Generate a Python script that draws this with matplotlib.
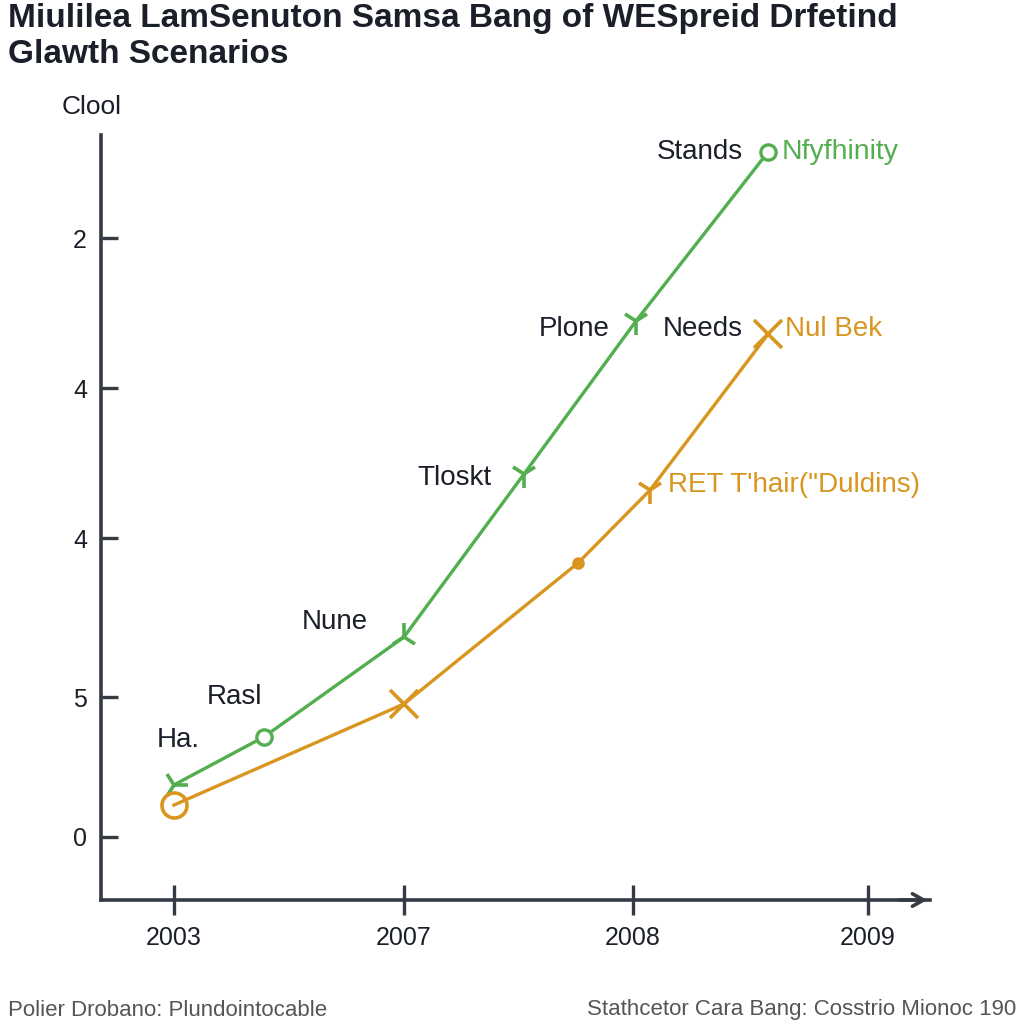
import matplotlib
matplotlib.use("Agg")
import matplotlib.pyplot as plt

# ---- data ----
x_ticks = [0, 1, 1.996, 3.017]
x_ticklabels = ["2003", "2007", "2008", "2009"]
y_ticks = [0, 0.933, 1.993, 2.993, 3.993]
y_ticklabels = ["0", "5", "4", "4", "2"]

green_x = [0, 0.391, 1, 1.522, 2.009, 2.583]
green_y = [0.347, 0.667, 1.333, 2.42, 3.44, 4.567]
green_markers = ["4", "o", "2", "1", "1", "o"]

orange_x = [0, 1, 1.757, 2.07, 2.583]
orange_y = [0.213, 0.887, 1.827, 2.313, 3.353]
orange_markers = ["o", "x", ".", "1", "x"]

black_labels = ["Ha.", "Rasl", "Nune", "Tloskt", "Plone", "Needs", "Stands"]
black_label_x = [0.017, 0.265, 0.70, 1.22, 1.74, 2.30, 2.287]
black_label_y = [0.647, 0.933, 1.433, 2.393, 3.387, 3.387, 4.567]

green_end_label = "Nfyfhinity"
orange_labels = ["Nul Bek", "RET T'hair(\"Duldins)"]
orange_label_x = [2.657, 2.148]
orange_label_y = [3.387, 2.347]

title = "Miulilea LamSenuton Samsa Bang of WESpreid Drfetind\nGlawth Scenarios"
y_label = "Clool"
foot_left = "Polier Drobano: Plundointocable"
foot_right = "Stathcetor Cara Bang: Cosstrio Mionoc 190"

GREEN = "#52ae4f"
ORANGE = "#d8961f"
AX = "#353b45"
TXT = "#1b1f29"

plt.rcParams["font.family"] = ["Liberation Sans", "DejaVu Sans"]

fig = plt.figure(figsize=(10.24, 10.24), dpi=100)
fig.patch.set_facecolor("white")
ax = fig.add_axes([101 / 1024, 124 / 1024, 829 / 1024, 765 / 1024])

ax.plot(green_x, green_y, color=GREEN, lw=2.4, zorder=3)
ax.plot(orange_x, orange_y, color=ORANGE, lw=2.4, zorder=3)
for xx, yy, m in zip(green_x, green_y, green_markers):
    if m == "o":
        ax.plot(xx, yy, marker="o", ms=11, mfc="white", mec=GREEN, mew=2.4, zorder=4)
    else:
        ax.plot(xx, yy, marker=m, ms=20, color=GREEN, mew=2.6, zorder=4)
for xx, yy, m in zip(orange_x, orange_y, orange_markers):
    if m == "o":
        ax.plot(xx, yy, marker="o", ms=18, mfc="none", mec=ORANGE, mew=2.6, zorder=4)
    elif m == ".":
        ax.plot(xx, yy, marker="o", ms=8, color=ORANGE, zorder=4)
    else:
        ax.plot(xx, yy, marker=m, ms=20, color=ORANGE, mew=2.6, zorder=4)

for t, xx, yy in zip(black_labels, black_label_x, black_label_y):
    ax.text(xx, yy, t, fontsize=20, color=TXT, ha="center", va="center")
ax.text(green_x[-1] + 0.06, green_y[-1], green_end_label, fontsize=20.5,
        color=GREEN, ha="left", va="center")
for t, xx, yy in zip(orange_labels, orange_label_x, orange_label_y):
    ax.text(xx, yy, t, fontsize=20, color=ORANGE, ha="left", va="center")

ax.set_xlim(-0.317, 3.287)
ax.set_ylim(-0.42, 4.68)
ax.set_xticks(x_ticks)
ax.set_xticklabels(x_ticklabels, fontsize=18, color=TXT)
ax.set_yticks(y_ticks)
ax.set_yticklabels(y_ticklabels, fontsize=18, color=TXT)
ax.tick_params(axis="x", direction="inout", length=22, width=2.4, color=AX, pad=8)
ax.tick_params(axis="y", direction="in", length=12, width=2.4, color=AX, pad=10)
for s in ["top", "right"]:
    ax.spines[s].set_visible(False)
for s in ["left", "bottom"]:
    ax.spines[s].set_color(AX)
    ax.spines[s].set_linewidth(2.6)
ax.annotate("", xy=(1.0, 0), xytext=(0.96, 0), xycoords="axes fraction",
            arrowprops=dict(arrowstyle="->,head_length=0.8,head_width=0.45",
                            lw=2.6, color=AX), annotation_clip=False)

fig.text(92 / 1024, 1 - 107 / 1024, y_label, fontsize=19, color=TXT,
         ha="center", va="center")
fig.text(8 / 1024, 1 - 3 / 1024, title, fontsize=24, fontweight="bold",
         color=TXT, ha="left", va="top", linespacing=1.2)
fig.text(8 / 1024, 1 - 1010 / 1024, foot_left, fontsize=16, color="#555555",
         ha="left", va="center")
fig.text(1016 / 1024, 1 - 1010 / 1024, foot_right, fontsize=16, color="#555555",
         ha="right", va="center")

fig.savefig("out.png", dpi=100, facecolor="white")
